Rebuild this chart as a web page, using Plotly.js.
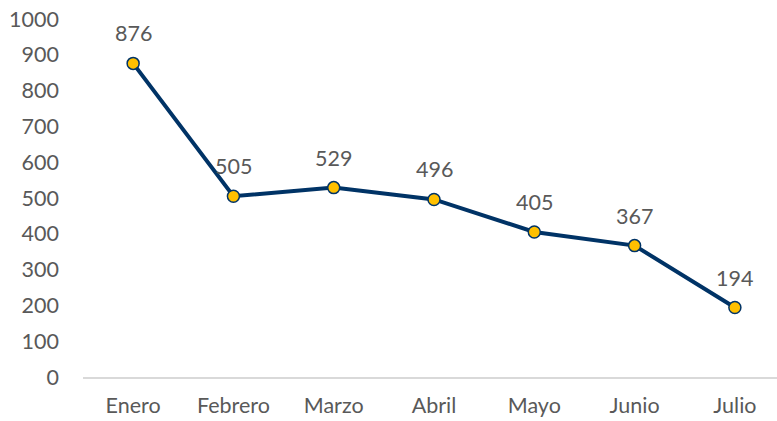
<!DOCTYPE html>
<html><head><meta charset="utf-8">
<script src="https://cdn.plot.ly/plotly-3.0.1.min.js"></script>
<style>html,body{margin:0;padding:0;background:#fff}#chart{width:777px;height:421px}</style>
</head><body><div id="chart"></div>
<script>
const months = ["Enero","Febrero","Marzo","Abril","Mayo","Junio","Julio"];
const values = [876, 505, 529, 496, 405, 367, 194];
const yTicks = [0,100,200,300,400,500,600,700,800,900,1000];

const txtColor = "#595959";
const fontFam = "Lato, 'Noto Sans', sans-serif";

const trace = {
  x: months, y: values, type: "scatter", mode: "lines+markers",
  line: {color: "#003366", width: 4},
  marker: {color: "#FFC000", size: 12, line: {color: "#003366", width: 1.5}},
  hoverinfo: "none", cliponaxis: false
};

const annotations = months.map((m, i) => ({
  x: m, y: values[i], xref: "x", yref: "y", text: String(values[i]),
  showarrow: false, yshift: 30, font: {family: fontFam, size: 21.5, color: txtColor}
}));

const layout = {
  width: 777, height: 421,
  margin: {l: 83, r: 0, t: 19, b: 44},
  paper_bgcolor: "#fff", plot_bgcolor: "#fff",
  showlegend: false,
  font: {family: fontFam, size: 21.5, color: txtColor},
  xaxis: {
    type: "category", categoryorder: "array", categoryarray: months,
    range: [-0.5, 6.42], showgrid: false, zeroline: false,
    showline: true, linecolor: "#D9D9D9", linewidth: 1.5,
    ticks: "", ticklabelstandoff: 9, fixedrange: true
  },
  yaxis: {
    range: [0, 1000], tickvals: yTicks, ticktext: yTicks.map(String),
    showgrid: false, zeroline: false, showline: false, ticks: "",
    ticklabelstandoff: 23, fixedrange: true
  },
  annotations: annotations
};

Plotly.newPlot("chart", [trace], layout, {displayModeBar: false, staticPlot: true});
</script></body></html>
